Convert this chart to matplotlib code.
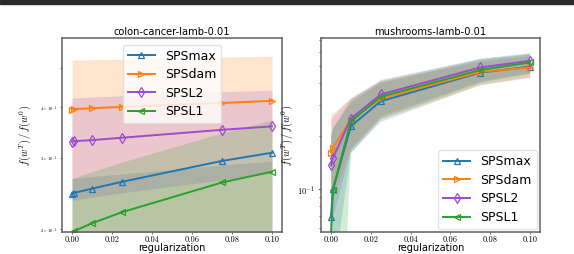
import matplotlib
matplotlib.use('Agg')
import matplotlib.pyplot as plt
from matplotlib.patches import Rectangle
from matplotlib.ticker import NullLocator, NullFormatter, FixedLocator, LogLocator

plt.rcParams['mathtext.fontset'] = 'cm'
plt.rcParams['font.family'] = ['DejaVu Sans']

# ---------------- data ----------------
reg = [0.0, 0.001, 0.01, 0.025, 0.075, 0.1]
methods = ['SPSmax', 'SPSdam', 'SPSL2', 'SPSL1']
colors = ['#1f77b4', '#ff7f0e', '#9b4dca', '#2ca02c']
markers = ['^', '>', 'd', '<']

# colon-cancer panel: mean and band (low / high)
colon_spsmax = [0.245, 0.246, 0.252, 0.262, 0.295, 0.309]
colon_spsdam = [0.395, 0.396, 0.398, 0.401, 0.410, 0.415]
colon_spsl2 = [0.329, 0.330, 0.332, 0.3365, 0.352, 0.359]
colon_spsl1 = [0.195, 0.198, 0.207, 0.2205, 0.261, 0.2775]

colon_spsmax_lo = [0.15, 0.15, 0.15, 0.15, 0.15, 0.15]
colon_spsmax_hi = [0.267, 0.267, 0.270, 0.274, 0.288, 0.295]
colon_spsdam_lo = [0.15, 0.15, 0.15, 0.15, 0.15, 0.15]
colon_spsdam_hi = [0.523, 0.523, 0.524, 0.526, 0.532, 0.535]
colon_spsl2_lo = [0.236, 0.236, 0.240, 0.246, 0.265, 0.275]
colon_spsl2_hi = [0.421, 0.422, 0.424, 0.427, 0.437, 0.441]
colon_spsl1_lo = [0.15, 0.15, 0.15, 0.15, 0.15, 0.15]
colon_spsl1_hi = [0.267, 0.268, 0.2775, 0.293, 0.346, 0.372]

# mushrooms panel
mush_spsmax = [0.069, 0.0996, 0.227, 0.315, 0.458, 0.495]
mush_spsdam = [0.161, 0.171, 0.248, 0.327, 0.462, 0.490]
mush_spsl2 = [0.136, 0.150, 0.251, 0.344, 0.490, 0.534]
mush_spsl1 = [0.055, 0.099, 0.242, 0.334, 0.474, 0.523]

mush_spsmax_lo = [0.02, 0.03, 0.16, 0.24, 0.39, 0.43]
mush_spsmax_hi = [0.20, 0.22, 0.31, 0.40, 0.54, 0.58]
mush_spsdam_lo = [0.08, 0.09, 0.17, 0.25, 0.39, 0.43]
mush_spsdam_hi = [0.27, 0.27, 0.33, 0.41, 0.53, 0.57]
mush_spsl2_lo = [0.06, 0.07, 0.17, 0.26, 0.41, 0.46]
mush_spsl2_hi = [0.25, 0.26, 0.33, 0.42, 0.55, 0.59]
mush_spsl1_lo = [0.001, 0.001, 0.16, 0.25, 0.40, 0.45]
mush_spsl1_hi = [0.20, 0.22, 0.32, 0.41, 0.55, 0.59]

colon_means = [colon_spsmax, colon_spsdam, colon_spsl2, colon_spsl1]
colon_los = [colon_spsmax_lo, colon_spsdam_lo, colon_spsl2_lo, colon_spsl1_lo]
colon_his = [colon_spsmax_hi, colon_spsdam_hi, colon_spsl2_hi, colon_spsl1_hi]
mush_means = [mush_spsmax, mush_spsdam, mush_spsl2, mush_spsl1]
mush_los = [mush_spsmax_lo, mush_spsdam_lo, mush_spsl2_lo, mush_spsl1_lo]
mush_his = [mush_spsmax_hi, mush_spsdam_hi, mush_spsl2_hi, mush_spsl1_hi]

xticks = [0.0, 0.02, 0.04, 0.06, 0.08, 0.10]
xticklabels = ['0.00', '0.02', '0.04', '0.06', '0.08', '0.10']

# ---------------- figure ----------------
W, H = 574, 254
fig = plt.figure(figsize=(W / 100, H / 100), dpi=100)
fig.patches.append(Rectangle((0, 1 - 3.5 / H), 1, 3.5 / H, transform=fig.transFigure,
                             color='#2a2a2a', zorder=10))

axL = fig.add_axes([62 / W, 1 - 232 / H, 220 / W, 194 / H])
axR = fig.add_axes([321 / W, 1 - 232 / H, 219 / W, 194 / H])


def draw(ax, means, los, his):
    for name, c, m, mu, lo, hi in zip(methods, colors, markers, means, los, his):
        ax.fill_between(reg, lo, hi, color=c, alpha=0.2, linewidth=0)
        ax.plot(reg, mu, color=c, marker=m, markersize=5, mfc='none', mew=0.9,
                lw=1.4, label=name)


draw(axL, colon_means, colon_los, colon_his)
draw(axR, mush_means, mush_los, mush_his)

for ax in (axL, axR):
    ax.set_yscale('log')
    ax.set_xticks(xticks)
    ax.set_xticklabels(xticklabels, fontsize=6, fontfamily='cmr10')
    ax.set_xlabel('regularization', fontsize=7)
    ax.xaxis.set_label_coords(0.5, -0.057)
    ax.tick_params(axis='x', length=1.5, width=0.6, pad=0.8, color='#555555')
    ax.tick_params(axis='y', which='both', width=0.6, color='#555555')
    for sp in ax.spines.values():
        sp.set_color('#606060')
        sp.set_linewidth(1.1)

leg_kw = dict(fontsize=9, handlelength=2.2, labelspacing=0.45, borderpad=0.4,
              framealpha=0.8, edgecolor='#dddddd', fancybox=True)

# left panel axes
axL.set_ylim(0.197, 0.593)
axL.yaxis.set_major_locator(FixedLocator([0.2, 0.3, 0.4, 0.5]))
axL.set_yticklabels([r'$2\times10^{-1}$', r'$3\times10^{-1}$', r'$4\times10^{-1}$', ''],
                    fontsize=3.2)
axL.yaxis.set_minor_locator(NullLocator())
axL.tick_params(axis='y', which='major', length=1.8, pad=1.5)
axL.set_title('colon-cancer-lamb-0.01', fontsize=7.1, pad=2.5)
axL.set_ylabel(r'$f(w^T)\,/\,f(w^0)$', fontsize=7.5)
axL.yaxis.set_label_coords(-0.132, 0.5)
axL.legend(loc='upper center', bbox_to_anchor=(0.5, 0.966), borderaxespad=0, **leg_kw)

# right panel axes
axR.set_ylim(0.057, 0.72)
axR.yaxis.set_major_locator(FixedLocator([0.1]))
axR.set_yticklabels([r'$10^{-1}$'], fontsize=6)
axR.yaxis.set_minor_locator(LogLocator(base=10, subs=(2, 3, 4, 5, 6, 7, 8, 9)))
axR.yaxis.set_minor_formatter(NullFormatter())
axR.tick_params(axis='y', which='major', length=2.5, pad=2)
axR.tick_params(axis='y', which='minor', length=1.5)
axR.set_title('mushrooms-lamb-0.01', fontsize=7.1, pad=2.5)
axR.set_ylabel(r'$f(w^T)\,/\,f(w^0)$', fontsize=7.5)
axR.yaxis.set_label_coords(-0.119, 0.5)
axR.legend(loc='lower right', bbox_to_anchor=(0.985, 0.015), borderaxespad=0, **leg_kw)

fig.savefig('out.png', dpi=100)
